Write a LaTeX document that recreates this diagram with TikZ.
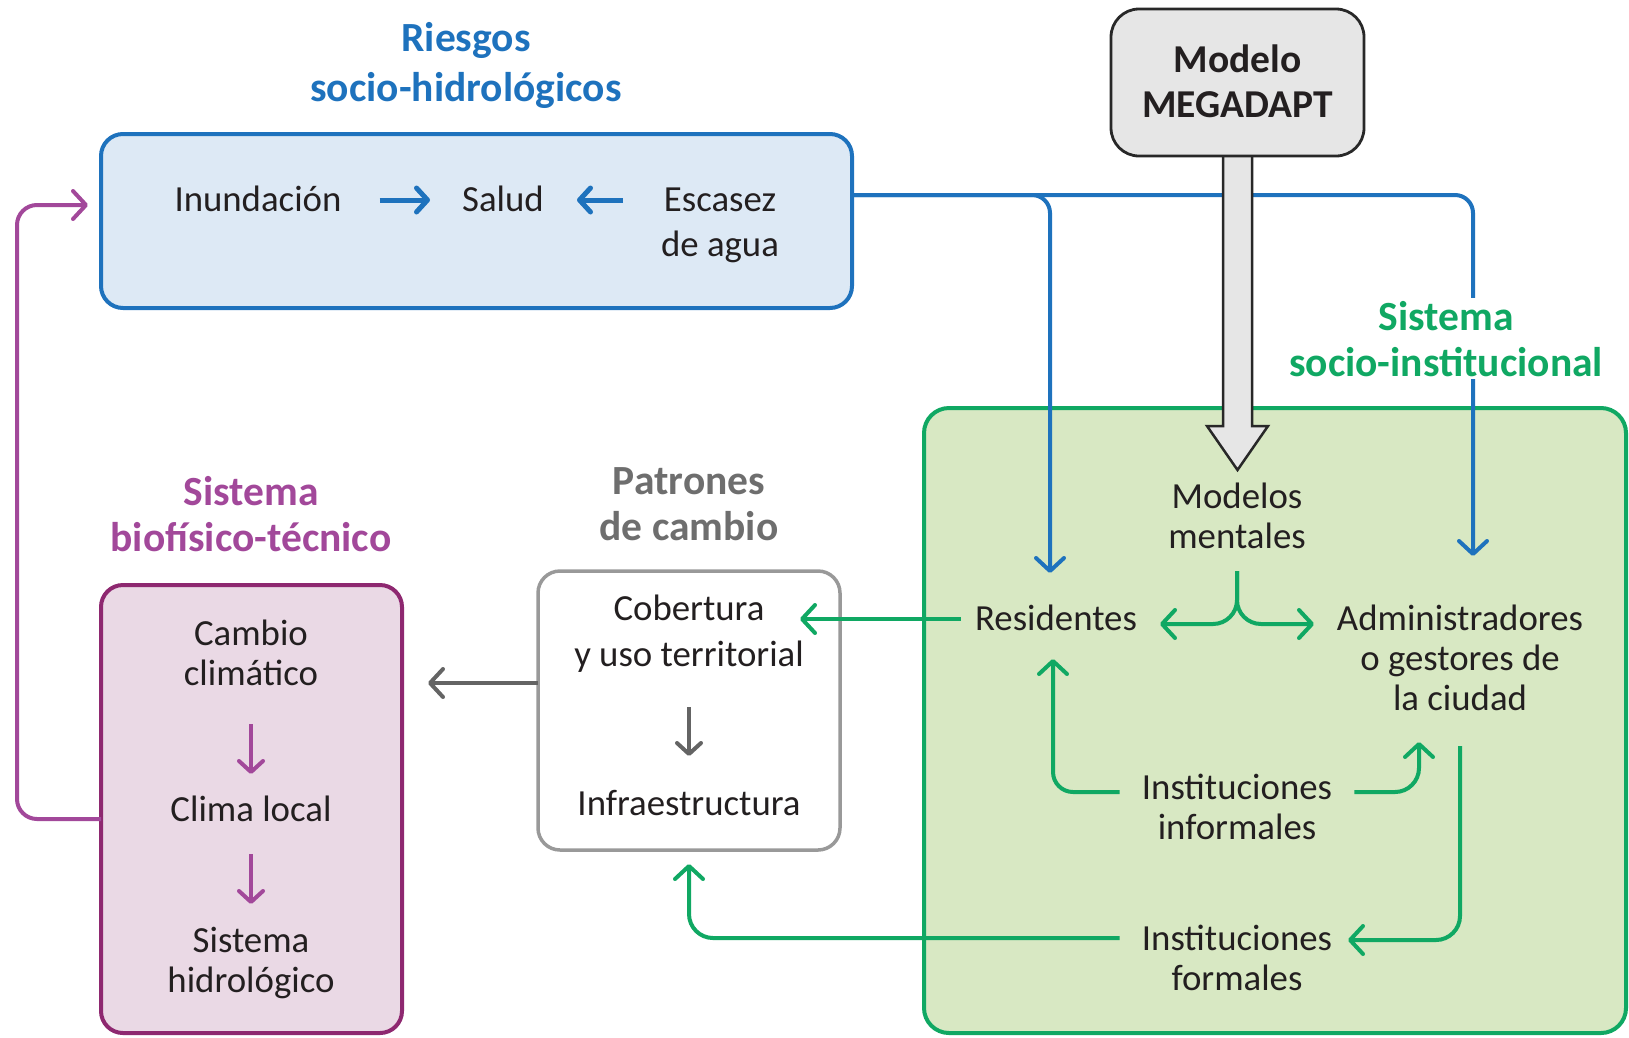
\documentclass[tikz,border=0pt]{standalone}
\usepackage{fontspec}
\setmainfont{Carlito}
\usetikzlibrary{arrows.meta}

\definecolor{bluline}{RGB}{30,114,189}
\definecolor{blufill}{RGB}{221,233,245}
\definecolor{pnkline}{RGB}{142,40,112}
\definecolor{pnkarrow}{RGB}{162,72,154}
\definecolor{pnkfill}{RGB}{234,217,229}
\definecolor{grnline}{RGB}{16,168,99}
\definecolor{grnfill}{RGB}{216,232,195}
\definecolor{gryline}{RGB}{153,153,153}
\definecolor{gryarrow}{RGB}{100,100,100}
\definecolor{grytext}{RGB}{110,110,110}
\definecolor{megafill}{RGB}{230,230,230}
\definecolor{megaline}{RGB}{40,40,40}
\definecolor{ink}{RGB}{35,31,32}

\begin{document}
\begin{tikzpicture}[x=1pt,y=-1pt,
  txt/.style={font=\fontsize{36.8}{40}\selectfont, text=ink, align=center, inner sep=0pt, anchor=base},
  ttl/.style={font=\fontsize{41.5}{46}\selectfont\bfseries, align=center, inner sep=0pt, anchor=base},
  frame/.style={rounded corners=22pt, line width=4pt, outer sep=0pt, inner sep=0pt},
  con/.style={line width=4pt, rounded corners=20pt, -{Straight Barb[round,length=13pt,width=28pt]}},
  shortcon/.style={line width=4pt, -{Straight Barb[round,length=11pt,width=24pt]}},
]
\useasboundingbox (0,0) rectangle (1629,1037);

% ---- frames of the four subsystems ----
\node[frame, draw=grnline, fill=grnfill, rounded corners=25pt, minimum width=702pt, minimum height=625pt] (socio) at (1275,720.5) {};
\node[frame, draw=bluline, fill=blufill, minimum width=751pt, minimum height=174pt] (riesgos) at (476.5,221) {};
\node[frame, draw=pnkline, fill=pnkfill, minimum width=301pt, minimum height=448pt] (bio) at (251.5,809) {};
\node[frame, draw=gryline, fill=white, line width=3.5pt, minimum width=302pt, minimum height=279pt] (patrones) at (689,710.5) {};

% ---- risks feed the two kinds of actors ----
\coordinate (residIn) at (1050,573);
\coordinate (adminIn) at (1473,556);
\draw[con, draw=bluline, rounded corners=18pt] (riesgos.east |- 0,195) -| (residIn);
\draw[con, draw=bluline, rounded corners=18pt] (riesgos.east |- 0,195) -| (adminIn);

% ---- MEGADAPT model and its broad arrow ----
\coordinate (mtip) at (1237.5,470);
\draw[fill=megafill, draw=megaline, line width=2.5pt, line join=miter]
  (1223,150) -- (1223,426) -- (1207,426) -- (mtip) -- (1268,426) -- (1252,426) -- (1252,150);
\node[frame, draw=megaline, fill=megafill, line width=2.8pt, rounded corners=28pt,
      minimum width=253pt, minimum height=147pt] (mega) at (1237.5,82.5) {};
\node[ttl, text=ink, font=\fontsize{39.5}{45}\selectfont\bfseries] (ttlMega) at (1237.5,117) {Modelo\\MEGADAPT};

% ---- titles (baselines of the last lines) ----
\node[ttl, text=bluline] (ttlRiesgos) at (466,101) {Riesgos\\[4pt]socio-hidrológicos};
\node[ttl, text=grnline, fill=white, inner sep=3pt] (ttlSocio) at (1446,376) {Sistema\\socio-institucional};
\node[ttl, text=pnkarrow] (ttlBio) at (251,551) {Sistema\\biofísico-técnico};
\node[ttl, text=grytext] (ttlPat) at (689,540) {Patrones\\de cambio};

% ---- labels ----
\node[txt] (inund) at (258,211) {Inundación};
\node[txt] (salud) at (503,211) {Salud};
\node[txt] (escasez) at (720,256) {Escasez\\[5pt]de agua};
\node[txt] (cambio) at (251,685) {Cambio\\climático};
\node[txt] (clima) at (251,821) {Clima local};
\node[txt] (hidro) at (251,992) {Sistema\\hidrológico};
\node[txt] (cobert) at (689,666) {Cobertura\\[6pt]y uso territorial};
\node[txt] (infra) at (689,815) {Infraestructura};
\node[txt] (modelos) at (1237,548) {Modelos\\mentales};
\node[txt] (resid) at (1056,630) {Residentes};
\node[txt] (admin) at (1460,710) {Administradores\\o gestores de\\la ciudad};
\node[txt] (instinf) at (1237,839) {Instituciones\\informales};
\node[txt] (instfor) at (1237,990) {Instituciones\\formales};

% ---- arrows inside the risk box ----
\draw[shortcon, draw=bluline, line width=5pt] (inund.east |- 0,200) ++(38,0) coordinate (inOut) -- (inOut -| 430,0);
\draw[shortcon, draw=bluline, line width=5pt] (salud.east |- 0,200) ++(79,0) coordinate (esOut) -- (esOut -| 577,0);

% ---- biophysical chain ----
\draw[shortcon, draw=pnkarrow] (cambio.south |- 0,724) -- (cambio.south |- 0,774);
\draw[shortcon, draw=pnkarrow] (clima.south |- 0,854) -- (clima.south |- 0,904);
\coordinate (fbIn) at (88,205);
\draw[con, draw=pnkarrow] (bio.west |- 0,819) -- (17,819) -- (17,205) -- (fbIn);

% ---- patterns of change ----
\draw[shortcon, draw=gryarrow] (cobert.south |- 0,707) -- (cobert.south |- 0,756);
\draw[con, draw=gryarrow, shorten >=26pt] (patrones.west |- 0,683) -- (bio.east |- 0,683);

% ---- socio-institutional links ----
\coordinate (cobIn) at (800,619);
\coordinate (brL) at (1160,624);
\coordinate (brR) at (1314,624);
\coordinate (resUp) at (1053,659);
\coordinate (admUp) at (1419,742);
\coordinate (forIn) at (1348,940);
\coordinate (infUp) at (689,864);
\draw[con, draw=grnline] (resid.west |- 0,619) ++(-14,0) -- (cobIn);
\draw[con, draw=grnline, rounded corners=24pt] (modelos.south |- 0,571) |- (brL);
\draw[con, draw=grnline, rounded corners=24pt] (modelos.south |- 0,571) |- (brR);
\draw[con, draw=grnline] (instinf.west |- 0,792) ++(-22,0) -| (resUp);
\draw[con, draw=grnline, rounded corners=24pt] (instinf.east |- 0,792) ++(22,0) -| (admUp);
\draw[con, draw=grnline, rounded corners=24pt] (admin.south |- 1462,746) |- (forIn);
\draw[con, draw=grnline, rounded corners=24pt] (instfor.west |- 0,938) ++(-22,0) -| (infUp);
\end{tikzpicture}
\end{document}
